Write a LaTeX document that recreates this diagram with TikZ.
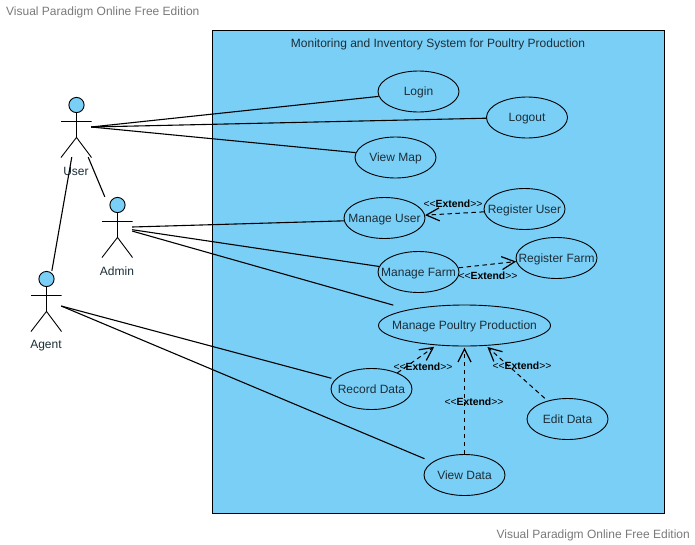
\documentclass[tikz,border=0pt]{standalone}
\usepackage{fontspec}
\setmainfont{Liberation Sans}
\usetikzlibrary{arrows.meta,shapes.geometric}
\definecolor{sysblue}{HTML}{7ACFF7}
\definecolor{inktext}{HTML}{1C2E38}
\newcommand{\uctext}[1]{\makebox[0pt]{#1}}
\newcommand{\actorfig}[4]{% name, x, y (centre), label
  \node[actorbox] (#1) at (#2,#3) {};
  \begin{scope}[shift={(#2,#3)}]
    \draw[fill=sysblue,line width=0.9pt] (0.5,-22) circle (7.6);
    \draw[line width=0.9pt] (0.5,-14.4) -- (0.5,10.4) (-15,-5.5) -- (15.5,-5.5) (-15,30.5) -- (0.5,10.4) -- (15.5,30.5);
  \end{scope}
  \node[actorlabel] (#1label) at (#2,#3+44.5) {#4};
}
\tikzset{
  x=1pt,y=-1pt,
  system/.style={draw=black,fill=sysblue,line width=0.9pt},
  uc/.style={draw=black,ellipse,fill=sysblue,line width=0.9pt,inner sep=0pt,minimum width=81pt,minimum height=41pt,text=inktext,text height=9pt,text depth=1pt,font=\fontsize{12}{14}\selectfont},
  ucwide/.style={uc,minimum width=172pt},
  actorbox/.style={draw=none,inner sep=0pt,minimum width=30pt,minimum height=60pt},
  actorlabel/.style={text=inktext,inner sep=0pt,font=\fontsize{12}{14}\selectfont},
  assoc/.style={draw=black,line width=1.1pt},
  ext/.style={draw=black,line width=1pt,dash pattern=on 4.5pt off 3.5pt,-{Straight Barb[length=13pt,width=13pt,line width=1.2pt]}},
  extlabel/.style={inner sep=0pt,text=black,font=\fontsize{10.4}{12}\selectfont},
  wm/.style={text=black!52,inner sep=0pt,font=\fontsize{12}{14}\selectfont},
  titletext/.style={text=inktext,inner sep=0pt,font=\fontsize{12}{14}\selectfont},
}
\begin{document}
\begin{tikzpicture}
\useasboundingbox (0,0) rectangle (695,544);
\fill[white] (0,0) rectangle (695,544);
\node[wm,anchor=west] (wma) at (6,12) {Visual Paradigm Online Free Edition};
\node[wm,anchor=east] (wmb) at (690,535) {Visual Paradigm Online Free Edition};
\node[system,minimum width=452pt,minimum height=483.5pt,inner sep=0pt] (sys) at (438,271.8) {};
\node[titletext] (title) at (438,44.7) {Monitoring and Inventory System for Poultry Production};

\node[uc] (login) at (418.5,91.5) {\uctext{Login}};
\node[uc] (logout) at (527,117.5) {\uctext{Logout}};
\node[uc] (map) at (395.5,157.5) {\uctext{View Map}};
\node[uc] (mu) at (384.5,218) {\uctext{Manage User}};
\node[uc] (ru) at (524.5,209) {\uctext{Register User}};
\node[uc] (mf) at (418.5,272) {\uctext{Manage Farm}};
\node[uc] (rf) at (556.5,258) {\uctext{Register Farm}};
\node[ucwide] (mp) at (464.5,325.5) {\uctext{Manage Poultry Production}};
\node[uc] (rd) at (371.5,389) {\uctext{Record Data}};
\node[uc] (ed) at (567.5,419) {\uctext{Edit Data}};
\node[uc] (vd) at (464.5,475) {\uctext{View Data}};

\actorfig{user}{76}{127}{User}
\actorfig{admin}{117}{227}{Admin}
\actorfig{agent}{46}{301}{Agent}

\draw[assoc] (user.east) -- (login.187);
\draw[assoc] (user.east) -- (logout.181);
\draw[assoc] (user.east) -- (map.173);
\draw[assoc] (user.-68) -- (admin.112);
\draw[assoc] (agent.79) -- (user.-98);
\draw[assoc] (admin.east) -- (mu.184);
\draw[assoc] (admin.-10) -- (mf.172);
\draw[assoc,shorten >=16pt] (admin.-15) -- (mp.164);
\draw[assoc,shorten >=4pt] (agent.east) ++(0,5) coordinate (agentport) (agentport) -- (rd.165);
\draw[assoc,shorten >=8.5pt] (agentport) -- (vd.158);

\draw[ext] (ru.184) -- (mu.4);
\draw[ext] (mf.6) -- (rf.185);
\draw[ext] (rd.32) -- ([shift={(-2,1.5)}]mp.215.6);
\draw[ext] (vd.north) -- ([shift={(0,1.2)}]mp.south);
\draw[ext] ([shift={(-2.5,-2.5)}]ed.138) -- ([shift={(1.2,1.2)}]mp.-43);

\node[extlabel] (la) at (453,203.7) {<{}<\textbf{Extend}>{}>};
\node[extlabel] (lb) at (488,275.7) {<{}<\textbf{Extend}>{}>};
\node[extlabel] (lc) at (423,366.7) {<{}<\textbf{Extend}>{}>};
\node[extlabel] (ld) at (474,401.7) {<{}<\textbf{Extend}>{}>};
\node[extlabel] (le) at (522,365.7) {<{}<\textbf{Extend}>{}>};
\end{tikzpicture}
\end{document}
